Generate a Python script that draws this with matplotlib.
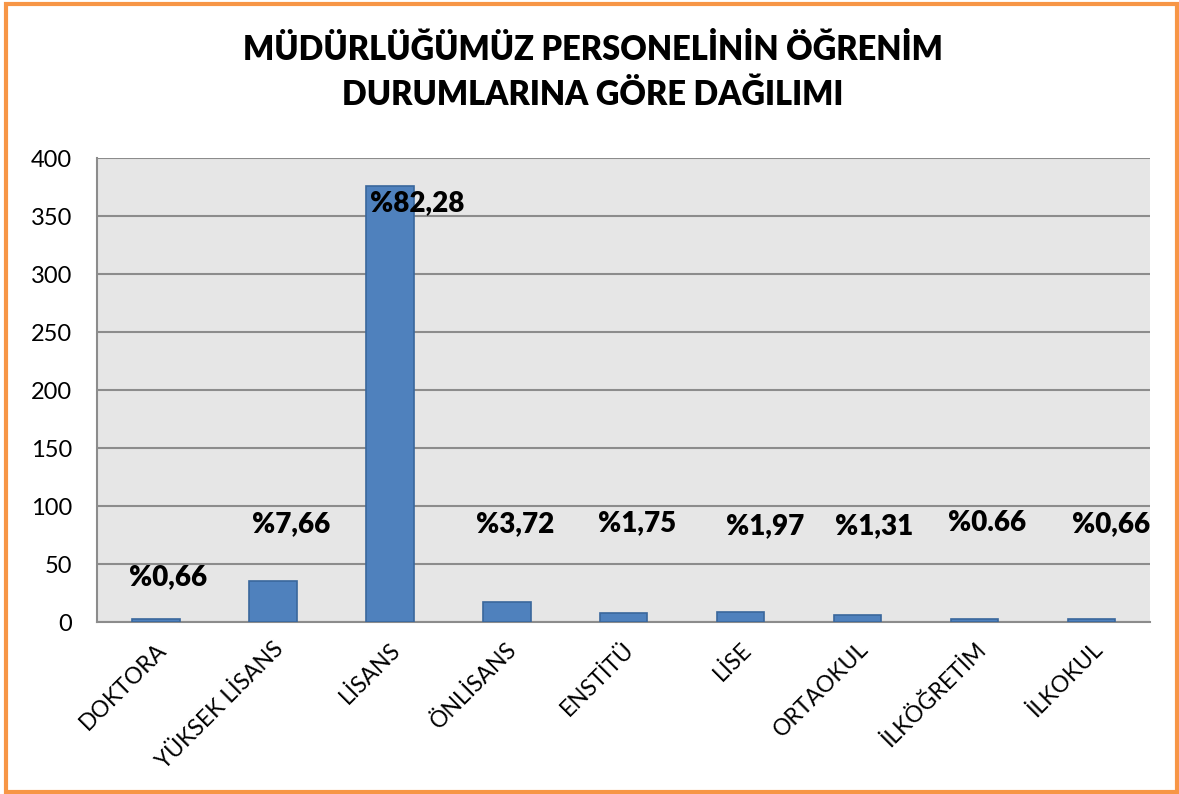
import matplotlib.pyplot as plt
from matplotlib.patches import Rectangle
import numpy as np

plt.rcParams['font.family'] = ['Lato', 'DejaVu Sans']

categories = ["DOKTORA", "YÜKSEK LİSANS", "LİSANS", "ÖNLİSANS", "ENSTİTÜ",
              "LİSE", "ORTAOKUL", "İLKÖĞRETİM", "İLKOKUL"]
counts = [3, 35, 376, 17, 8, 9, 6, 3, 3]
pct_labels = ["%0,66", "%7,66", "%82,28", "%3,72", "%1,75",
              "%1,97", "%1,31", "%0.66", "%0,66"]
# label placement (shift in category units, height in data units)
label_dx = [0.11, 0.16, 0.24, 0.07, 0.12, 0.21, 0.14, 0.11, 0.17]
label_y = [39, 84, 361, 84, 85, 83, 83, 85, 84]

title = "MÜDÜRLÜĞÜMÜZ PERSONELİNİN ÖĞRENİM\nDURUMLARINA GÖRE DAĞILIMI"

fig = plt.figure(figsize=(11.79, 7.94), dpi=100)
ax = fig.add_axes([0.0823, 0.2166, 0.8931, 0.5844])

x = np.arange(len(categories))
ax.bar(x, counts, width=0.41, color="#4F81BD", edgecolor="#3A679C", linewidth=1.2, zorder=3)

for xi, dx, y, lab in zip(x, label_dx, label_y, pct_labels):
    ax.text(xi + dx, y, lab, ha='center', va='center', fontsize=20,
            fontweight='heavy', color='black', zorder=4)

ax.set_facecolor("#E6E6E6")
ax.set_xlim(-0.5, len(categories) - 0.5)
ax.set_ylim(0, 400)
ax.set_yticks(np.arange(0, 401, 50))
ax.yaxis.grid(True, color="#8C8C8C", linewidth=1.5, zorder=0)
ax.set_axisbelow(True)

for s in ['top', 'right']:
    ax.spines[s].set_visible(False)
for s in ['left', 'bottom']:
    ax.spines[s].set_color("#8C8C8C")
    ax.spines[s].set_linewidth(1.5)

ax.tick_params(axis='both', length=0)
ax.tick_params(axis='y', pad=18, labelsize=17)
ax.set_xticks(x)
ax.set_xticklabels(categories, rotation=45, ha='right', rotation_mode='anchor', fontsize=16.5)
ax.tick_params(axis='x', pad=12)

fig.text(0.503, 0.909, title, ha='center', va='center', fontsize=23.5,
         fontweight='heavy', linespacing=1.5)

fig.patches.append(Rectangle((6 / 1179, 2 / 794), 1171 / 1179, 788 / 794,
                             transform=fig.transFigure, fill=False,
                             edgecolor="#F79646", linewidth=3))

fig.savefig("out.png", dpi=100)
